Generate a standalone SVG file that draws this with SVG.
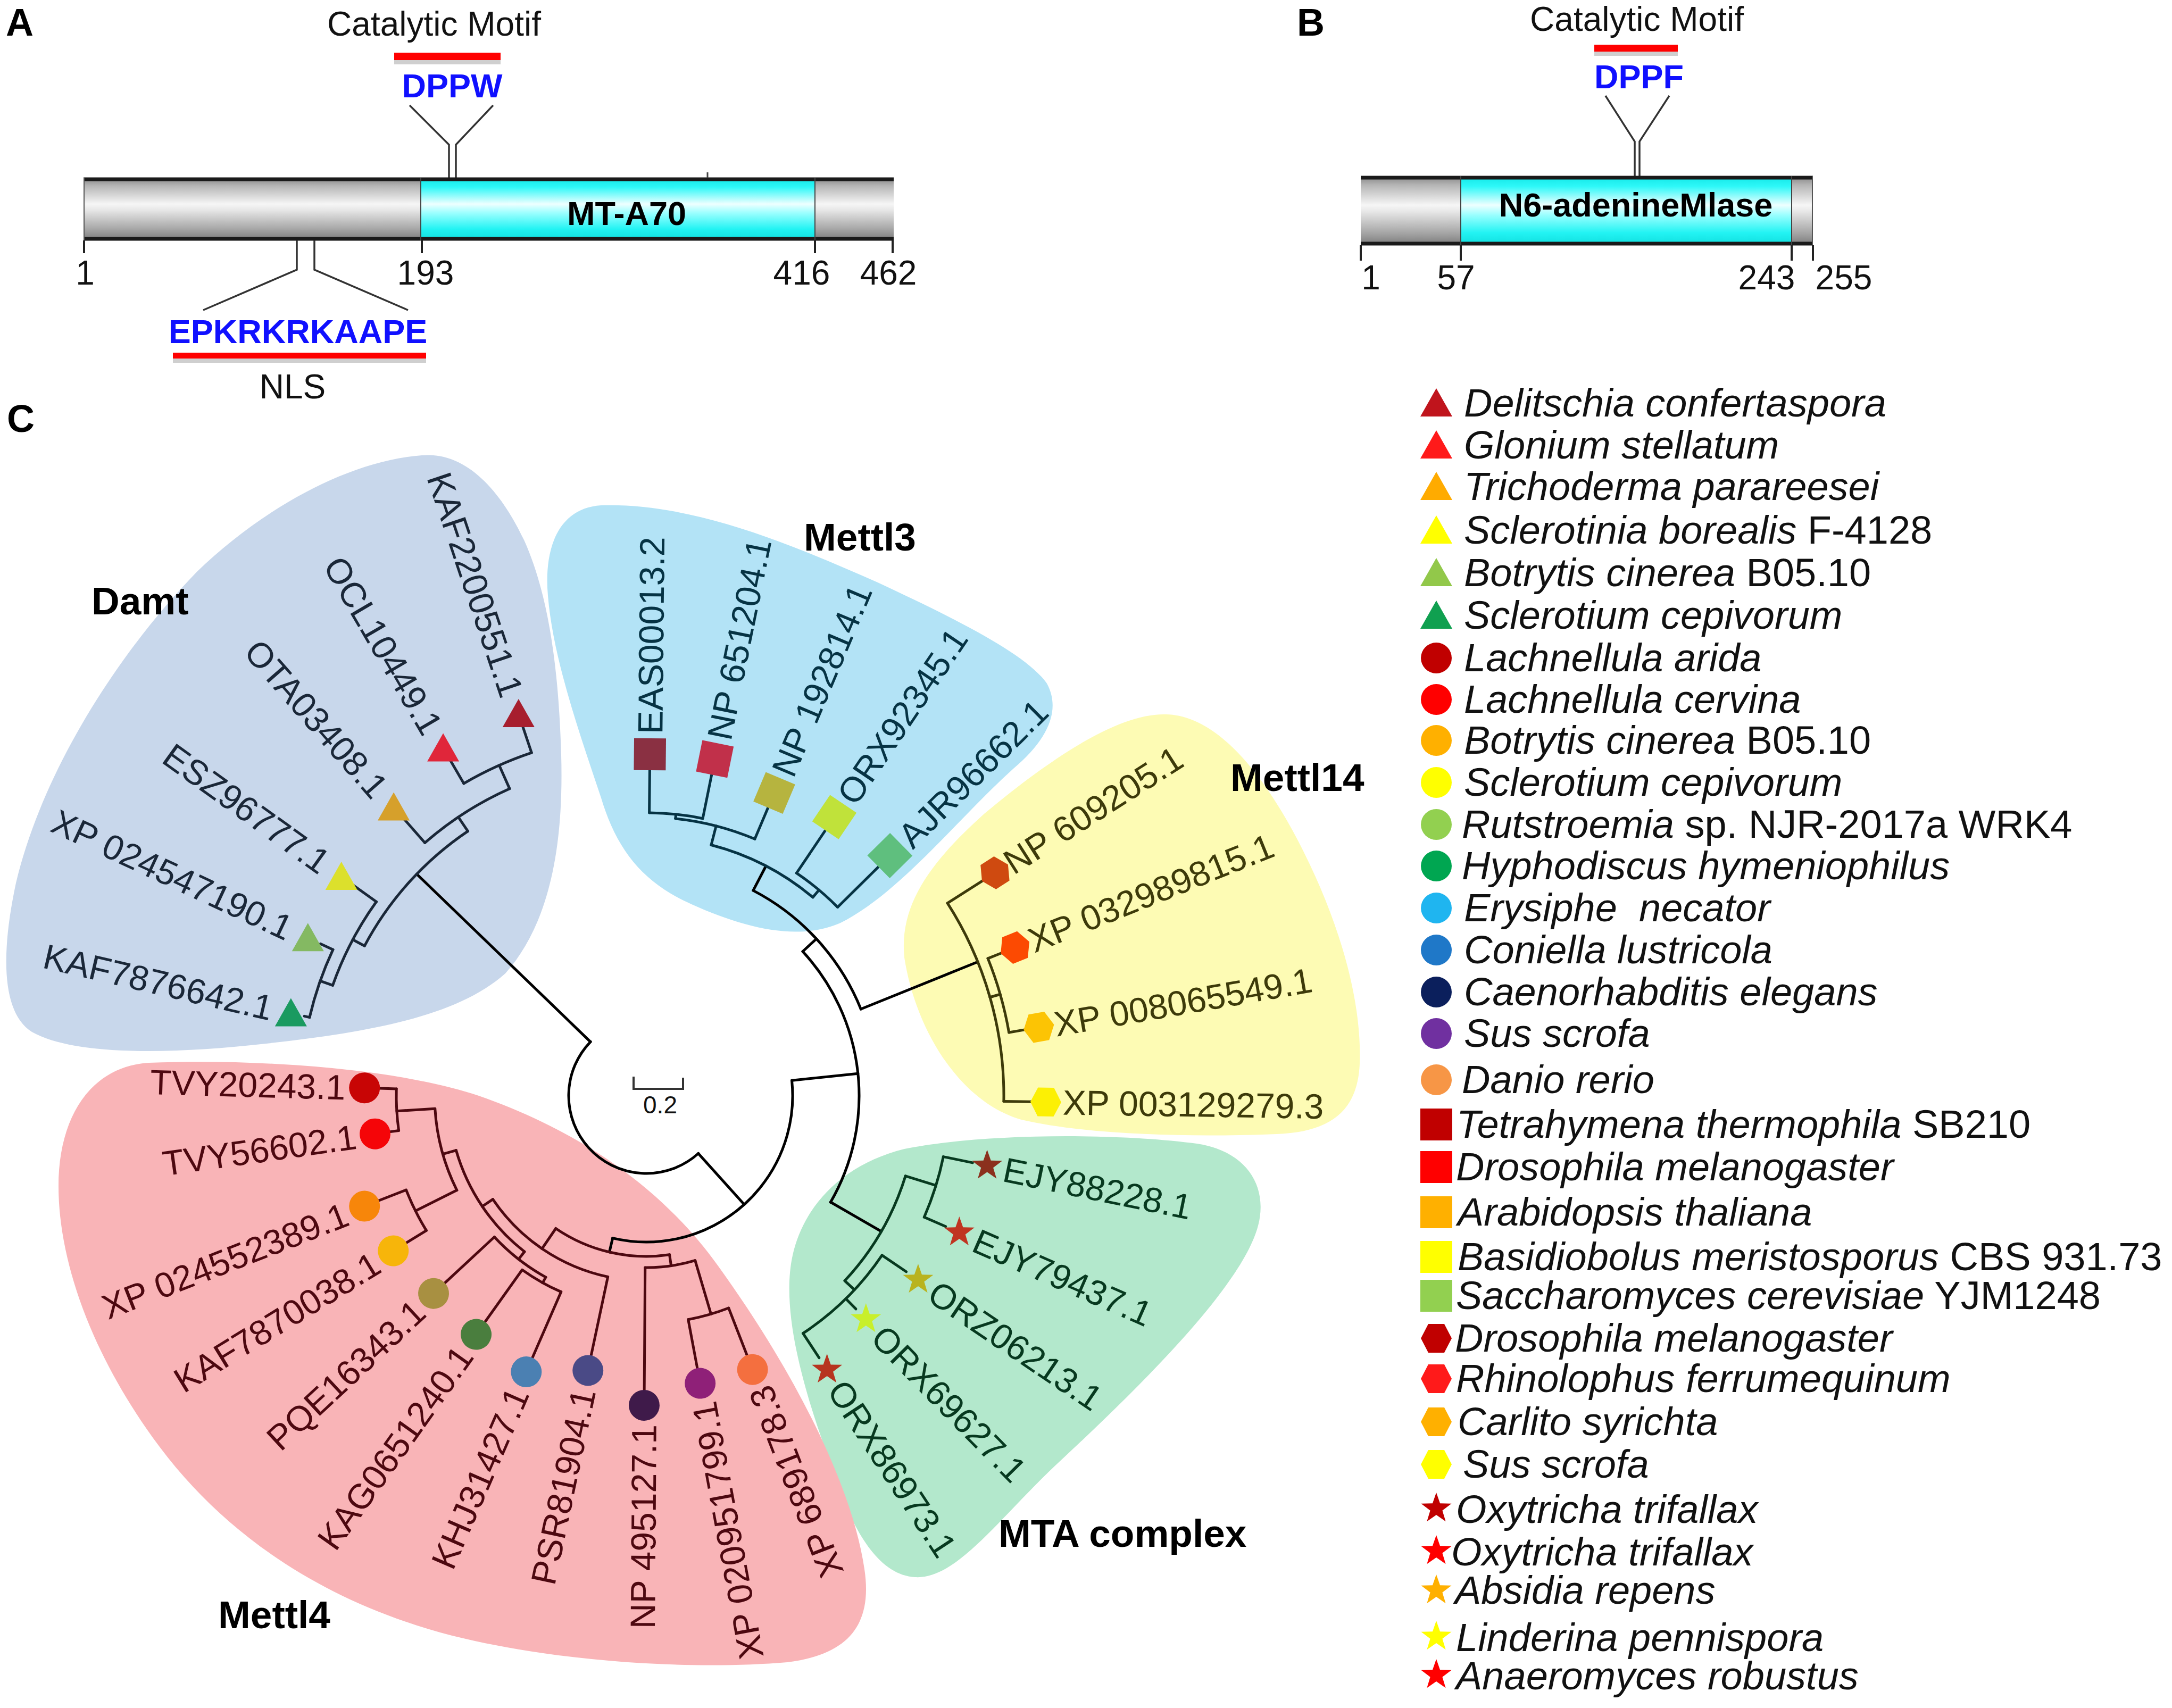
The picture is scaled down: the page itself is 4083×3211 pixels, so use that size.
<svg xmlns="http://www.w3.org/2000/svg" width="4083" height="3211" viewBox="0 0 4083 3211">
<defs>
<style>
text{font-family:"Liberation Sans",Arial,sans-serif}
.pl{font-weight:bold;font-size:72px;fill:#000}
.t64{font-size:64px;fill:#111}
.motif{font-weight:bold;font-size:63px;fill:#1010ff}
.dom{font-weight:bold;font-size:63px;fill:#000}
.thin{fill:none;stroke:#333;stroke-width:3.5}
.edge{stroke:#1a1a1a;stroke-width:7}
.tick{stroke:#222;stroke-width:4}
.ln line,.ln circle{fill:none;stroke-width:5;stroke-linecap:round}
.k{stroke:#000}.dm{stroke:#1a2738}.m3{stroke:#063344}.m14{stroke:#3d3a0a}.mta{stroke:#07391f}.m4{stroke:#4d0810}
.lb{font-size:66px}
.tdm{fill:#1a2738}.tm3{fill:#063344}.tm14{fill:#3d3a0a}.tmta{fill:#07391f}.tm4{fill:#4d0810}
.cl{font-weight:bold;font-size:73px;fill:#000}
.lg{font-size:74px;font-style:italic;fill:#111}
.up{font-style:normal}
</style>
<linearGradient id="gGray" x1="0" y1="0" x2="0" y2="1">
<stop offset="0" stop-color="#858585"/><stop offset="0.13" stop-color="#b5b5b5"/><stop offset="0.42" stop-color="#f6f6f6"/><stop offset="0.52" stop-color="#e6e6e6"/><stop offset="0.82" stop-color="#a6a6a6"/><stop offset="1" stop-color="#7a7a7a"/>
</linearGradient>
<linearGradient id="gCyan" x1="0" y1="0" x2="0" y2="1">
<stop offset="0" stop-color="#12e6e6"/><stop offset="0.15" stop-color="#2ef8f8"/><stop offset="0.42" stop-color="#eeffff"/><stop offset="0.56" stop-color="#9cffff"/><stop offset="0.82" stop-color="#22f3f3"/><stop offset="1" stop-color="#10dede"/>
</linearGradient>
<polygon id="tri" points="0,-28 30,25 -30,25"/>
<rect id="sq" x="-30" y="-30" width="60" height="60"/>
<polygon id="hex" points="-29,0 -15,-27 15,-27 29,0 15,27 -15,27"/>
<polygon id="star" points="0,-30 7.05,-9.71 28.53,-9.27 11.41,3.71 17.63,24.27 0,12 -17.63,24.27 -11.41,3.71 -28.53,-9.27 -7.05,-9.71"/>
<circle id="dot" r="29"/>
</defs>
<rect width="4083" height="3211" fill="#fff"/>

<g id="panelA">
<text class="pl" x="11" y="67">A</text>
<text class="t64" x="816" y="67" text-anchor="middle">Catalytic Motif</text>
<rect x="741" y="113" width="200" height="8" fill="#cfcfcf"/>
<rect x="741" y="99" width="200" height="14" fill="#ff0000"/>
<text class="motif" x="850" y="183" text-anchor="middle">DPPW</text>
<path class="thin" d="M770,198 L844,272 V334 M927,198 L857,272 V334"/>
<rect x="157" y="334" width="634" height="118" fill="url(#gGray)"/>
<rect x="791" y="334" width="741" height="118" fill="url(#gCyan)"/>
<rect x="1532" y="334" width="148" height="118" fill="url(#gGray)"/>
<line class="edge" x1="157" y1="337" x2="1680" y2="337"/>
<line class="edge" x1="157" y1="449" x2="1680" y2="449"/>
<line x1="791" y1="334" x2="791" y2="452" stroke="#444" stroke-width="2"/>
<line x1="1532" y1="334" x2="1532" y2="452" stroke="#444" stroke-width="2"/>
<line x1="158" y1="334" x2="158" y2="452" stroke="#555" stroke-width="2"/>
<line x1="1330" y1="324" x2="1330" y2="334" stroke="#444" stroke-width="3"/>
<text class="dom" x="1178" y="423" text-anchor="middle">MT-A70</text>
<line class="tick" x1="158" y1="452" x2="158" y2="476"/>
<line class="tick" x1="793" y1="452" x2="793" y2="476"/>
<line class="tick" x1="1532" y1="452" x2="1532" y2="476"/>
<line class="tick" x1="1678" y1="452" x2="1678" y2="476"/>
<text class="t64" x="160" y="535" text-anchor="middle">1</text>
<text class="t64" x="800" y="535" text-anchor="middle">193</text>
<text class="t64" x="1507" y="535" text-anchor="middle">416</text>
<text class="t64" x="1670" y="535" text-anchor="middle">462</text>
<path class="thin" d="M558,452 V507 L382,583 M591,452 V507 L767,583" stroke="#555" stroke-width="4"/>
<text class="motif" x="560" y="645" text-anchor="middle" font-size="62">EPKRKRKAAPE</text>
<rect x="325" y="674" width="476" height="8" fill="#cfcfcf"/>
<rect x="325" y="663" width="476" height="11" fill="#ff0000"/>
<text class="t64" x="550" y="749" text-anchor="middle">NLS</text>
</g>

<g id="panelB">
<text class="pl" x="2438" y="67">B</text>
<text class="t64" x="3077" y="58" text-anchor="middle">Catalytic Motif</text>
<rect x="2997" y="97" width="157" height="8" fill="#cfcfcf"/>
<rect x="2997" y="84" width="157" height="13" fill="#ff0000"/>
<text class="motif" x="3081" y="166" text-anchor="middle">DPPF</text>
<path class="thin" d="M3018,180 L3073,266 V331 M3138,180 L3082,266 V331"/>
<rect x="2558" y="331" width="188" height="130" fill="url(#gGray)"/>
<rect x="2746" y="331" width="622" height="130" fill="url(#gCyan)"/>
<rect x="3368" y="331" width="40" height="130" fill="url(#gGray)"/>
<line class="edge" x1="2558" y1="334" x2="3408" y2="334"/>
<line class="edge" x1="2558" y1="458" x2="3408" y2="458"/>
<line x1="2746" y1="331" x2="2746" y2="461" stroke="#444" stroke-width="2"/>
<line x1="3368" y1="331" x2="3368" y2="461" stroke="#444" stroke-width="2"/>
<line x1="3407" y1="331" x2="3407" y2="461" stroke="#555" stroke-width="2"/>
<text class="dom" x="3075" y="407" text-anchor="middle" font-size="64">N6-adenineMlase</text>
<line class="tick" x1="2558" y1="461" x2="2558" y2="490"/>
<line class="tick" x1="2746" y1="461" x2="2746" y2="490"/>
<line class="tick" x1="3368" y1="461" x2="3368" y2="490"/>
<line class="tick" x1="3408" y1="461" x2="3408" y2="490"/>
<text class="t64" x="2577" y="544" text-anchor="middle">1</text>
<text class="t64" x="2737" y="544" text-anchor="middle">57</text>
<text class="t64" x="3321" y="544" text-anchor="middle">243</text>
<text class="t64" x="3466" y="544" text-anchor="middle">255</text>
</g>

<text class="pl" x="13" y="812">C</text>

<g id="clade-backgrounds">
<path id="bg-damt" fill="#c8d7eb" d="M793,856 C880,848 945,930 985,1015 C1030,1115 1050,1250 1055,1420 C1060,1600 1030,1740 950,1830 C860,1910 700,1940 500,1962 C320,1982 140,1985 60,1940 C5,1905 0,1800 30,1660 C80,1450 220,1230 370,1075 C500,950 660,866 793,856 Z"/>
<path id="bg-mettl3" fill="#b3e3f6" d="M1130,950 C1300,945 1480,1020 1650,1095 C1800,1165 1930,1230 1968,1285 C1995,1335 1970,1390 1905,1445 C1800,1540 1690,1680 1580,1735 C1500,1770 1400,1745 1300,1700 C1210,1660 1160,1600 1130,1500 C1090,1380 1040,1240 1030,1120 C1022,1030 1050,955 1130,950 Z"/>
<path id="bg-mettl14" fill="#fdfbb4" d="M2192,1343 C2290,1345 2380,1460 2450,1600 C2530,1760 2560,1900 2556,2000 C2552,2090 2500,2128 2400,2132 C2250,2138 2050,2135 1920,2105 C1800,2070 1720,1930 1700,1800 C1690,1700 1750,1620 1850,1530 C1970,1430 2100,1340 2192,1343 Z"/>
<path id="bg-mta" fill="#b3e8cc" d="M1700,2160 C1850,2130 2100,2130 2250,2150 C2350,2165 2390,2240 2360,2320 C2320,2430 2150,2600 2000,2740 C1880,2850 1800,2970 1720,2965 C1640,2960 1590,2850 1550,2720 C1500,2580 1470,2450 1490,2360 C1510,2270 1580,2190 1700,2160 Z"/>
<path id="bg-mettl4" fill="#f9b4b7" d="M280,1998 C500,1990 750,2010 900,2060 C1100,2130 1250,2240 1350,2380 C1480,2560 1600,2780 1625,2950 C1640,3050 1600,3110 1480,3125 C1300,3140 1050,3125 850,3075 C600,3010 420,2880 300,2720 C180,2560 110,2380 110,2230 C110,2100 170,2005 280,1998 Z"/>
</g>

<g id="scale-bar">
<path d="M1191,2024 V2047 H1284 V2026" fill="none" stroke="#333" stroke-width="4"/>
<text x="1241" y="2093" text-anchor="middle" font-size="46" fill="#111">0.2</text>
</g>

<g id="tree" transform="translate(1215,2060)">
<g id="connectors" class="ln">
<circle class="k" r="146" stroke-dasharray="448.5 99999" transform="rotate(48)"/>
<line class="k" x1="146" x2="600" transform="rotate(224)"/>
<line class="k" x1="146" x2="275" transform="rotate(48)"/>
<circle class="k" r="275" stroke-dasharray="524.6 99999" transform="rotate(-6)"/>
<line class="k" x1="275" x2="400" transform="rotate(-6)"/>
<circle class="k" r="400" stroke-dasharray="507.5 99999" transform="rotate(-42.7)"/>
<line class="k" x1="400" x2="435" transform="rotate(-42.7)"/>
<circle class="k" r="435" stroke-dasharray="307.5 99999" transform="rotate(-62.5)"/>
<line class="k" x1="435" x2="487" transform="rotate(-62.5)"/>
<line class="k" x1="435" x2="672" transform="rotate(-22)"/>
<line class="k" x1="400" x2="510" transform="rotate(30)"/>
<line class="k" x1="275" x2="302" transform="rotate(103.3)"/>

<circle class="dm" r="600" stroke-dasharray="293.2 99999" transform="rotate(208)"/>
<line class="dm" x1="600" x2="625" transform="rotate(208)"/>
<circle class="dm" r="625" stroke-dasharray="177.8 99999" transform="rotate(199.4)"/>
<line class="dm" x1="625" x2="680" transform="rotate(215.7)"/>
<line class="dm" x1="625" x2="650" transform="rotate(199.4)"/>
<circle class="dm" r="650" stroke-dasharray="135 99999" transform="rotate(193.1)"/>
<line class="dm" x1="650" x2="676" transform="rotate(205)"/>
<line class="dm" x1="650" x2="660" transform="rotate(193.1)"/>
<line class="dm" x1="600" x2="632" transform="rotate(236)"/>
<circle class="dm" r="632" stroke-dasharray="189.7 99999" transform="rotate(228.8)"/>
<line class="dm" x1="632" x2="695" transform="rotate(228.8)"/>
<line class="dm" x1="632" x2="680" transform="rotate(246)"/>
<circle class="dm" r="680" stroke-dasharray="140 99999" transform="rotate(239.7)"/>
<line class="dm" x1="680" x2="731" transform="rotate(239.7)"/>
<line class="dm" x1="680" x2="731" transform="rotate(251.5)"/>

<circle class="m3" r="487" stroke-dasharray="216.7 99999" transform="rotate(-75.5)"/>
<line class="m3" x1="487" x2="524" transform="rotate(-75.5)"/>
<circle class="m3" r="524" stroke-dasharray="154.6 99999" transform="rotate(-84)"/>
<line class="m3" x1="524" x2="532" transform="rotate(-84)"/>
<circle class="m3" r="532" stroke-dasharray="101.2 99999" transform="rotate(-89.4)"/>
<line class="m3" x1="532" x2="612" transform="rotate(-89.4)"/>
<line class="m3" x1="532" x2="616" transform="rotate(-78.5)"/>
<line class="m3" x1="524" x2="588" transform="rotate(-67.1)"/>
<line class="m3" x1="487" x2="505" transform="rotate(-50)"/>
<circle class="m3" r="505" stroke-dasharray="100.5 99999" transform="rotate(-56)"/>
<line class="m3" x1="505" x2="602" transform="rotate(-56)"/>
<line class="m3" x1="505" x2="613" transform="rotate(-44.6)"/>

<circle class="m14" r="672" stroke-dasharray="392.9 99999" transform="rotate(-32.6)"/>
<line class="m14" x1="672" x2="752" transform="rotate(-32.6)"/>
<line class="m14" x1="672" x2="692" transform="rotate(-16)"/>
<circle class="m14" r="692" stroke-dasharray="144.9 99999" transform="rotate(-21.9)"/>
<line class="m14" x1="692" x2="720" transform="rotate(-21.9)"/>
<line class="m14" x1="692" x2="722" transform="rotate(-9.9)"/>
<line class="m14" x1="672" x2="724" transform="rotate(0.9)"/>

<circle class="mta" r="510" stroke-dasharray="229.6 99999" transform="rotate(17.2)"/>
<line class="mta" x1="510" x2="570" transform="rotate(17.2)"/>
<circle class="mta" r="570" stroke-dasharray="119.4 99999" transform="rotate(11.6)"/>
<line class="mta" x1="570" x2="626" transform="rotate(11.6)"/>
<line class="mta" x1="570" x2="614" transform="rotate(23.6)"/>
<line class="mta" x1="510" x2="535" transform="rotate(43)"/>
<circle class="mta" r="535" stroke-dasharray="210.1 99999" transform="rotate(34.1)"/>
<line class="mta" x1="535" x2="590" transform="rotate(34.1)"/>
<line class="mta" x1="535" x2="562" transform="rotate(45.5)"/>
<line class="mta" x1="535" x2="590" transform="rotate(56.6)"/>

<circle class="m4" r="302" stroke-dasharray="224.5 99999" transform="rotate(81.7)"/>
<line class="m4" x1="302" x2="323" transform="rotate(81.7)"/>
<circle class="m4" r="323" stroke-dasharray="95.3 99999" transform="rotate(73.5)"/>
<line class="m4" x1="323" x2="553" transform="rotate(90.4)"/>
<line class="m4" x1="323" x2="428" transform="rotate(73.5)"/>
<circle class="m4" r="428" stroke-dasharray="79.2 99999" transform="rotate(68.8)"/>
<line class="m4" x1="428" x2="521" transform="rotate(79.4)"/>
<line class="m4" x1="428" x2="523" transform="rotate(68.8)"/>
<line class="m4" x1="302" x2="348" transform="rotate(124.3)"/>
<circle class="m4" r="348" stroke-dasharray="267.2 99999" transform="rotate(102)"/>
<line class="m4" x1="348" x2="499" transform="rotate(102)"/>
<line class="m4" x1="348" x2="372" transform="rotate(146)"/>
<circle class="m4" r="372" stroke-dasharray="233.7 99999" transform="rotate(128)"/>
<line class="m4" x1="372" x2="390" transform="rotate(128)"/>
<circle class="m4" r="390" stroke-dasharray="123.2 99999" transform="rotate(119)"/>
<line class="m4" x1="390" x2="517" transform="rotate(137.1)"/>
<line class="m4" x1="390" x2="402" transform="rotate(119)"/>
<circle class="m4" r="402" stroke-dasharray="84.2 99999" transform="rotate(113.5)"/>
<line class="m4" x1="402" x2="522" transform="rotate(125.5)"/>
<line class="m4" x1="402" x2="537" transform="rotate(113.5)"/>
<line class="m4" x1="372" x2="398" transform="rotate(164)"/>
<circle class="m4" r="398" stroke-dasharray="159.8 99999" transform="rotate(153.5)"/>
<line class="m4" x1="398" x2="485" transform="rotate(153.5)"/>
<circle class="m4" r="485" stroke-dasharray="85.5 99999" transform="rotate(148.5)"/>
<line class="m4" x1="485" x2="540" transform="rotate(158.6)"/>
<line class="m4" x1="485" x2="529" transform="rotate(148.5)"/>
<line class="m4" x1="398" x2="470" transform="rotate(176.5)"/>
<circle class="m4" r="470" stroke-dasharray="78.7 99999" transform="rotate(172)"/>
<line class="m4" x1="470" x2="501" transform="rotate(181.6)"/>
<line class="m4" x1="470" x2="486" transform="rotate(172)"/>
</g>

<g id="damt-leaves">
<g id="KAF2200551"><use href="#tri" fill="#a71e2e" transform="rotate(251.5) translate(757,0) rotate(-251.5)"/><text class="lb tdm" text-anchor="end" dy="0.35em" transform="rotate(251.5) translate(793,0) rotate(180)">KAF2200551.1</text></g>
<g id="OCL10449"><use href="#tri" fill="#e0263a" transform="rotate(239.7) translate(757,0) rotate(-239.7)"/><text class="lb tdm" text-anchor="end" dy="0.35em" transform="rotate(239.7) translate(793,0) rotate(180)">OCL10449.1</text></g>
<g id="OTA03408"><use href="#tri" fill="#d6a02b" transform="rotate(228.8) translate(721,0) rotate(-228.8)"/><text class="lb tdm" text-anchor="end" dy="0.35em" transform="rotate(228.8) translate(757,0) rotate(180)">OTA03408.1</text></g>
<g id="ESZ96777"><use href="#tri" fill="#dce02c" transform="rotate(215.7) translate(706,0) rotate(-215.7)"/><text class="lb tdm" text-anchor="end" dy="0.35em" transform="rotate(215.7) translate(742,0) rotate(180)">ESZ96777.1</text></g>
<g id="XP024547190"><use href="#tri" fill="#84b962" transform="rotate(205) translate(702,0) rotate(-205)"/><text class="lb tdm" text-anchor="end" dy="0.35em" transform="rotate(205) translate(738,0) rotate(180)">XP 024547190.1</text></g>
<g id="KAF7876642"><use href="#tri" fill="#1a9a60" transform="rotate(193.1) translate(686,0) rotate(-193.1)"/><text class="lb tdm" text-anchor="end" dy="0.35em" transform="rotate(193.1) translate(722,0) rotate(180)">KAF7876642.1</text></g>
</g>

<g id="mettl3-leaves">
<g id="EAS00013"><use href="#sq" fill="#8a3042" transform="rotate(-89.4) translate(642,0)"/><text class="lb tm3" dy="0.35em" transform="rotate(-89.4) translate(680,0)">EAS00013.2</text></g>
<g id="NP651204"><use href="#sq" fill="#c1304a" transform="rotate(-78.5) translate(646,0)"/><text class="lb tm3" dy="0.35em" transform="rotate(-78.5) translate(684,0)">NP 651204.1</text></g>
<g id="NP192814"><use href="#sq" fill="#b6b43f" transform="rotate(-67.1) translate(618,0)"/><text class="lb tm3" dy="0.35em" transform="rotate(-67.1) translate(656,0)">NP 192814.1</text></g>
<g id="ORX92345"><use href="#sq" fill="#c0e23a" transform="rotate(-56) translate(632,0)"/><text class="lb tm3" dy="0.35em" transform="rotate(-56) translate(670,0)">ORX92345.1</text></g>
<g id="AJR96662"><use href="#sq" fill="#5fbf7e" transform="rotate(-44.6) translate(643,0)"/><text class="lb tm3" dy="0.35em" transform="rotate(-44.6) translate(681,0)">AJR96662.1</text></g>
</g>

<g id="mettl14-leaves">
<g id="NP609205"><use href="#hex" fill="#cf4a10" transform="rotate(-32.6) translate(778,0)"/><text class="lb tm14" dy="0.35em" transform="rotate(-32.6) translate(805,0)">NP 609205.1</text></g>
<g id="XP032989815"><use href="#hex" fill="#fc4a02" transform="rotate(-21.9) translate(747,0)"/><text class="lb tm14" dy="0.35em" transform="rotate(-21.9) translate(777,0)">XP 032989815.1</text></g>
<g id="XP008065549"><use href="#hex" fill="#fcc404" transform="rotate(-9.9) translate(749,0)"/><text class="lb tm14" dy="0.35em" transform="rotate(-9.9) translate(779,0)">XP 008065549.1</text></g>
<g id="XP003129279"><use href="#hex" fill="#fcf004" transform="rotate(0.9) translate(751,0)"/><text class="lb tm14" dy="0.35em" transform="rotate(0.9) translate(783,0)">XP 003129279.3</text></g>
</g>

<g id="mta-leaves">
<g id="EJY88228"><use href="#star" fill="#8b301d" transform="rotate(11.6) translate(654,0) rotate(-11.6)"/><text class="lb tmta" dy="0.35em" transform="rotate(11.6) translate(686,0)">EJY88228.1</text></g>
<g id="EJY79437"><use href="#star" fill="#c03421" transform="rotate(23.6) translate(642,0) rotate(-23.6)"/><text class="lb tmta" dy="0.35em" transform="rotate(23.6) translate(674,0)">EJY79437.1</text></g>
<g id="ORZ06213"><use href="#star" fill="#b9b31f" transform="rotate(34.1) translate(617,0) rotate(-34.1)"/><text class="lb tmta" dy="0.35em" transform="rotate(34.1) translate(649,0)">ORZ06213.1</text></g>
<g id="ORX69627"><use href="#star" fill="#c8ef2b" transform="rotate(45.5) translate(589,0) rotate(-45.5)"/><text class="lb tmta" dy="0.35em" transform="rotate(45.5) translate(621,0)">ORX69627.1</text></g>
<g id="ORX86973"><use href="#star" fill="#b7341f" transform="rotate(56.6) translate(617,0) rotate(-56.6)"/><text class="lb tmta" dy="0.35em" transform="rotate(56.6) translate(649,0)">ORX86973.1</text></g>
</g>

<g id="mettl4-leaves">
<g id="TVY20243"><use href="#dot" fill="#c80505" transform="rotate(181.6) translate(530,0)"/><text class="lb tm4" text-anchor="end" dy="0.35em" transform="rotate(181.6) translate(566,0) rotate(180)">TVY20243.1</text></g>
<g id="TVY56602"><use href="#dot" fill="#f50508" transform="rotate(172) translate(515,0)"/><text class="lb tm4" text-anchor="end" dy="0.35em" transform="rotate(172) translate(551,0) rotate(180)">TVY56602.1</text></g>
<g id="XP024552389"><use href="#dot" fill="#f7860a" transform="rotate(158.6) translate(569,0)"/><text class="lb tm4" text-anchor="end" dy="0.35em" transform="rotate(158.6) translate(605,0) rotate(180)">XP 024552389.1</text></g>
<g id="KAF7870038"><use href="#dot" fill="#f7b50a" transform="rotate(148.5) translate(558,0)"/><text class="lb tm4" text-anchor="end" dy="0.35em" transform="rotate(148.5) translate(594,0) rotate(180)">KAF7870038.1</text></g>
<g id="PQE16343"><use href="#dot" fill="#a89041" transform="rotate(137.1) translate(546,0)"/><text class="lb tm4" text-anchor="end" dy="0.35em" transform="rotate(137.1) translate(582,0) rotate(180)">PQE16343.1</text></g>
<g id="KAG0651240"><use href="#dot" fill="#4a7e3e" transform="rotate(125.5) translate(551,0)"/><text class="lb tm4" text-anchor="end" dy="0.35em" transform="rotate(125.5) translate(587,0) rotate(180)">KAG0651240.1</text></g>
<g id="KHJ31427"><use href="#dot" fill="#4b80b2" transform="rotate(113.5) translate(566,0)"/><text class="lb tm4" text-anchor="end" dy="0.35em" transform="rotate(113.5) translate(602,0) rotate(180)">KHJ31427.1</text></g>
<g id="PSR81904"><use href="#dot" fill="#4a4a86" transform="rotate(102) translate(528,0)"/><text class="lb tm4" text-anchor="end" dy="0.35em" transform="rotate(102) translate(564,0) rotate(180)">PSR81904.1</text></g>
<g id="NP495127"><use href="#dot" fill="#3f1a4a" transform="rotate(90.4) translate(582,0)"/><text class="lb tm4" text-anchor="end" dy="0.35em" transform="rotate(90.4) translate(618,0) rotate(180)">NP 495127.1</text></g>
<g id="XP020951799"><use href="#dot" fill="#8f2078" transform="rotate(79.4) translate(550,0)"/><text class="lb tm4" text-anchor="end" dy="0.35em" transform="rotate(79.4) translate(586,0) rotate(180)">XP 020951799.1</text></g>
<g id="XP689178"><use href="#dot" fill="#f46f3f" transform="rotate(68.8) translate(552,0)"/><text class="lb tm4" text-anchor="end" dy="0.35em" transform="rotate(68.8) translate(588,0) rotate(180)">XP 689178.3</text></g>
</g>
</g>

<g id="clade-labels">
<text class="cl" x="172" y="1155">Damt</text>
<text class="cl" x="1511" y="1035">Mettl3</text>
<text class="cl" x="2313" y="1487">Mettl14</text>
<text class="cl" x="1877" y="2908">MTA complex</text>
<text class="cl" x="410" y="3061">Mettl4</text>
</g>

<g id="legend" class="lg">
<g id="lg1"><use href="#tri" x="2700" y="758" fill="#c0141c"/><text x="2752" y="783">Delitschia confertaspora</text></g>
<g id="lg2"><use href="#tri" x="2700" y="837" fill="#ff1a1a"/><text x="2752" y="862">Glonium stellatum</text></g>
<g id="lg3"><use href="#tri" x="2700" y="915" fill="#ffab00"/><text x="2752" y="940">Trichoderma parareesei</text></g>
<g id="lg4"><use href="#tri" x="2700" y="997" fill="#ffff00"/><text x="2752" y="1022">Sclerotinia borealis<tspan class="up"> F-4128</tspan></text></g>
<g id="lg5"><use href="#tri" x="2700" y="1077" fill="#92c84a"/><text x="2752" y="1102">Botrytis cinerea<tspan class="up"> B05.10</tspan></text></g>
<g id="lg6"><use href="#tri" x="2700" y="1157" fill="#10a050"/><text x="2752" y="1182">Sclerotium cepivorum</text></g>
<g id="lg7"><use href="#dot" x="2700" y="1237" fill="#c00000"/><text x="2752" y="1262">Lachnellula arida</text></g>
<g id="lg8"><use href="#dot" x="2700" y="1315" fill="#ff0000"/><text x="2752" y="1340">Lachnellula cervina</text></g>
<g id="lg9"><use href="#dot" x="2700" y="1392" fill="#ffb000"/><text x="2752" y="1417">Botrytis cinerea<tspan class="up"> B05.10</tspan></text></g>
<g id="lg10"><use href="#dot" x="2700" y="1471" fill="#ffff00"/><text x="2752" y="1496">Sclerotium cepivorum</text></g>
<g id="lg11"><use href="#dot" x="2700" y="1550" fill="#92d050"/><text x="2748" y="1575">Rutstroemia<tspan class="up"> sp. NJR-2017a WRK4</tspan></text></g>
<g id="lg12"><use href="#dot" x="2700" y="1628" fill="#00a651"/><text x="2748" y="1653">Hyphodiscus hymeniophilus</text></g>
<g id="lg13"><use href="#dot" x="2700" y="1707" fill="#1fb5f0"/><text x="2752" y="1732" xml:space="preserve">Erysiphe  necator</text></g>
<g id="lg14"><use href="#dot" x="2700" y="1786" fill="#1f78c8"/><text x="2752" y="1811">Coniella lustricola</text></g>
<g id="lg15"><use href="#dot" x="2700" y="1865" fill="#0b1f5c"/><text x="2752" y="1890">Caenorhabditis elegans</text></g>
<g id="lg16"><use href="#dot" x="2700" y="1943" fill="#7030a0"/><text x="2752" y="1968">Sus scrofa</text></g>
<g id="lg17"><use href="#dot" x="2700" y="2030" fill="#f79646"/><text x="2748" y="2055">Danio rerio</text></g>
<g id="lg18"><use href="#sq" x="2700" y="2114" fill="#c00000"/><text x="2738" y="2139">Tetrahymena thermophila<tspan class="up"> SB210</tspan></text></g>
<g id="lg19"><use href="#sq" x="2700" y="2194" fill="#ff0000"/><text x="2737" y="2219">Drosophila melanogaster</text></g>
<g id="lg20"><use href="#sq" x="2700" y="2279" fill="#ffb000"/><text x="2740" y="2304">Arabidopsis thaliana</text></g>
<g id="lg21"><use href="#sq" x="2700" y="2363" fill="#ffff00"/><text x="2740" y="2388">Basidiobolus meristosporus<tspan class="up"> CBS 931.73</tspan></text></g>
<g id="lg22"><use href="#sq" x="2700" y="2436" fill="#92d050"/><text x="2737" y="2461">Saccharomyces cerevisiae<tspan class="up"> YJM1248</tspan></text></g>
<g id="lg23"><use href="#hex" x="2700" y="2516" fill="#c00000"/><text x="2735" y="2541">Drosophila melanogaster</text></g>
<g id="lg24"><use href="#hex" x="2700" y="2592" fill="#ff1a1a"/><text x="2737" y="2617">Rhinolophus ferrumequinum</text></g>
<g id="lg25"><use href="#hex" x="2700" y="2673" fill="#ffb000"/><text x="2740" y="2698">Carlito syrichta</text></g>
<g id="lg26"><use href="#hex" x="2700" y="2753" fill="#ffff00"/><text x="2750" y="2778">Sus scrofa</text></g>
<g id="lg27"><use href="#star" x="2700" y="2836" fill="#c00000"/><text x="2737" y="2863">Oxytricha trifallax</text></g>
<g id="lg28"><use href="#star" x="2700" y="2916" fill="#ff0000"/><text x="2728" y="2943">Oxytricha trifallax</text></g>
<g id="lg29"><use href="#star" x="2700" y="2990" fill="#ffb000"/><text x="2735" y="3015">Absidia repens</text></g>
<g id="lg30"><use href="#star" x="2700" y="3077" fill="#ffff00"/><text x="2737" y="3104">Linderina pennispora</text></g>
<g id="lg31"><use href="#star" x="2700" y="3149" fill="#ff0000"/><text x="2737" y="3176">Anaeromyces robustus</text></g>
</g>
</svg>
